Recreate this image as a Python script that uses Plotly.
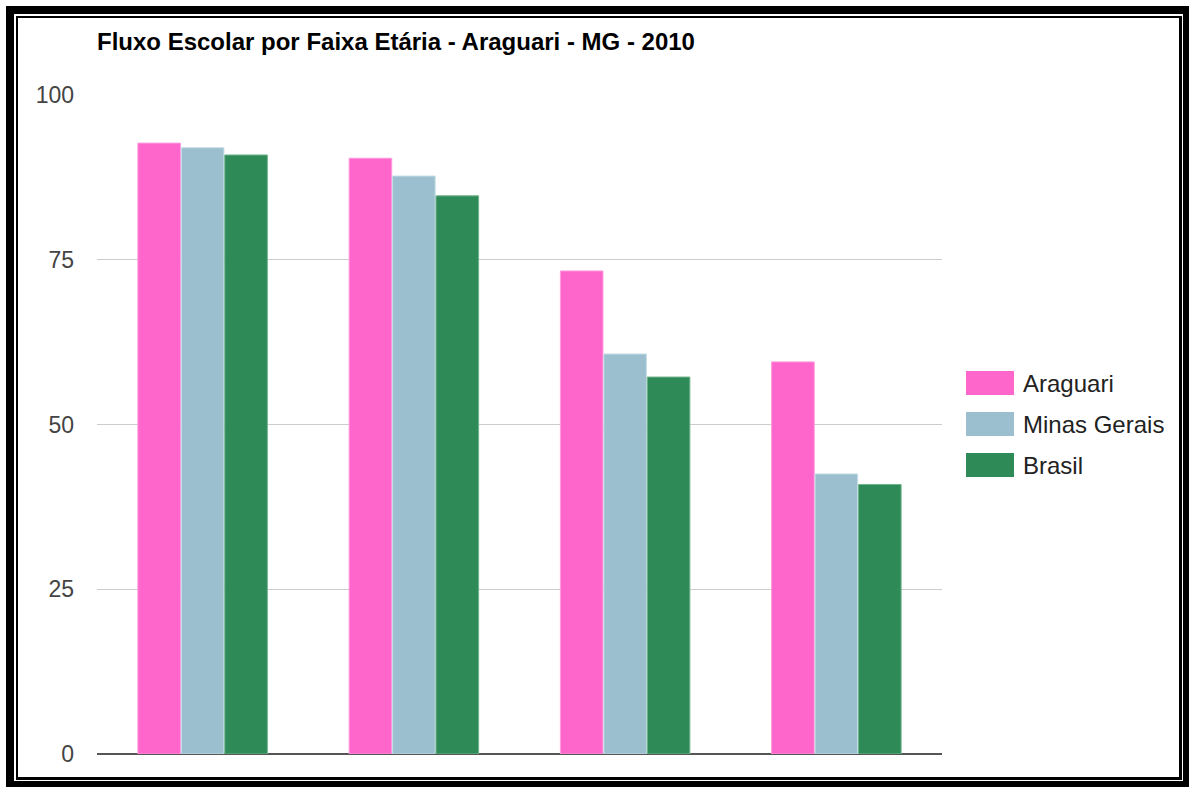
import plotly.graph_objects as go

categories = ["5 a 6 anos", "11 a 13 anos", "15 a 17 anos", "18 a 20 anos"]
series_names = ["Araguari", "Minas Gerais", "Brasil"]
araguari = [92.7, 90.4, 73.3, 59.5]
minas_gerais = [92.0, 87.7, 60.7, 42.5]
brasil = [90.9, 84.7, 57.2, 40.9]
colors = ["#FF66CC", "#9BBFCE", "#2E8B57"]
line_colors = ["#FF99DD", "#C5DDE6", "#6FB38C"]
y_ticks = [0, 25, 50, 75, 100]
title_text = "Fluxo Escolar por Faixa Etária - Araguari - MG - 2010"

W, H = 1189, 787
L, R, T, B = 97, 942, 95, 754  # plot area pixel box

def px(x):
    return (x - L) / (R - L)

def py(y):
    return (B - y) / (B - T)

fig = go.Figure()
for name, vals, c, lc in zip(series_names, [araguari, minas_gerais, brasil], colors, line_colors):
    fig.add_trace(go.Bar(x=categories, y=vals, name=name,
                         marker=dict(color=c, line=dict(color=lc, width=1))))

shapes = []
# frame
for (x0, y0, x1, y1, col) in [(6, 6, 1189, 787, "black"), (14, 14, 1183, 781, "white"),
                              (16, 16, 1182, 780, "black"), (18, 18, 1179, 777, "white")]:
    shapes.append(dict(type="rect", xref="paper", yref="paper", x0=px(x0), x1=px(x1),
                       y0=py(y1), y1=py(y0), fillcolor=col, line=dict(width=0), layer="below"))

annotations = []
legend_rows = [383, 424, 465]
for name, c, yc in zip(series_names, colors, legend_rows):
    shapes.append(dict(type="rect", xref="paper", yref="paper", x0=px(966), x1=px(1014),
                       y0=py(yc + 12), y1=py(yc - 12), fillcolor=c, line=dict(width=0)))
    annotations.append(dict(xref="paper", yref="paper", x=px(1021), y=py(yc), text=name,
                            showarrow=False, xanchor="left", yanchor="middle",
                            font=dict(family="Liberation Sans, Arial", size=24, color="#222222")))

fig.update_layout(
    width=W, height=H,
    margin=dict(l=L, r=W - R, t=T, b=H - B),
    paper_bgcolor="white",
    plot_bgcolor="rgba(0,0,0,0)",
    showlegend=False,
    barmode="group",
    bargap=0.383,
    bargroupgap=0.02,
    title=dict(text="<b>" + title_text + "</b>", xref="paper", x=0, xanchor="left",
               yref="container", y=1 - 42 / H, yanchor="middle",
               font=dict(family="Liberation Sans, Arial", size=24, color="black")),
    font=dict(family="Liberation Sans, Arial", size=23, color="#444444"),
    xaxis=dict(showticklabels=False, showgrid=False, zeroline=False, showline=False, ticks=""),
    yaxis=dict(range=[0, 100], tickvals=y_ticks, showgrid=True, gridcolor="#CCCCCC", gridwidth=1,
               zeroline=True, zerolinecolor="#555555", zerolinewidth=2, showline=False,
               ticks="", ticklabelstandoff=22, tickfont=dict(size=23, color="#444444")),
    shapes=shapes,
    annotations=annotations,
)

fig.write_html("out.html", config={"displayModeBar": False},
               post_script="document.body.style.margin='0';document.body.style.overflow='hidden';")
